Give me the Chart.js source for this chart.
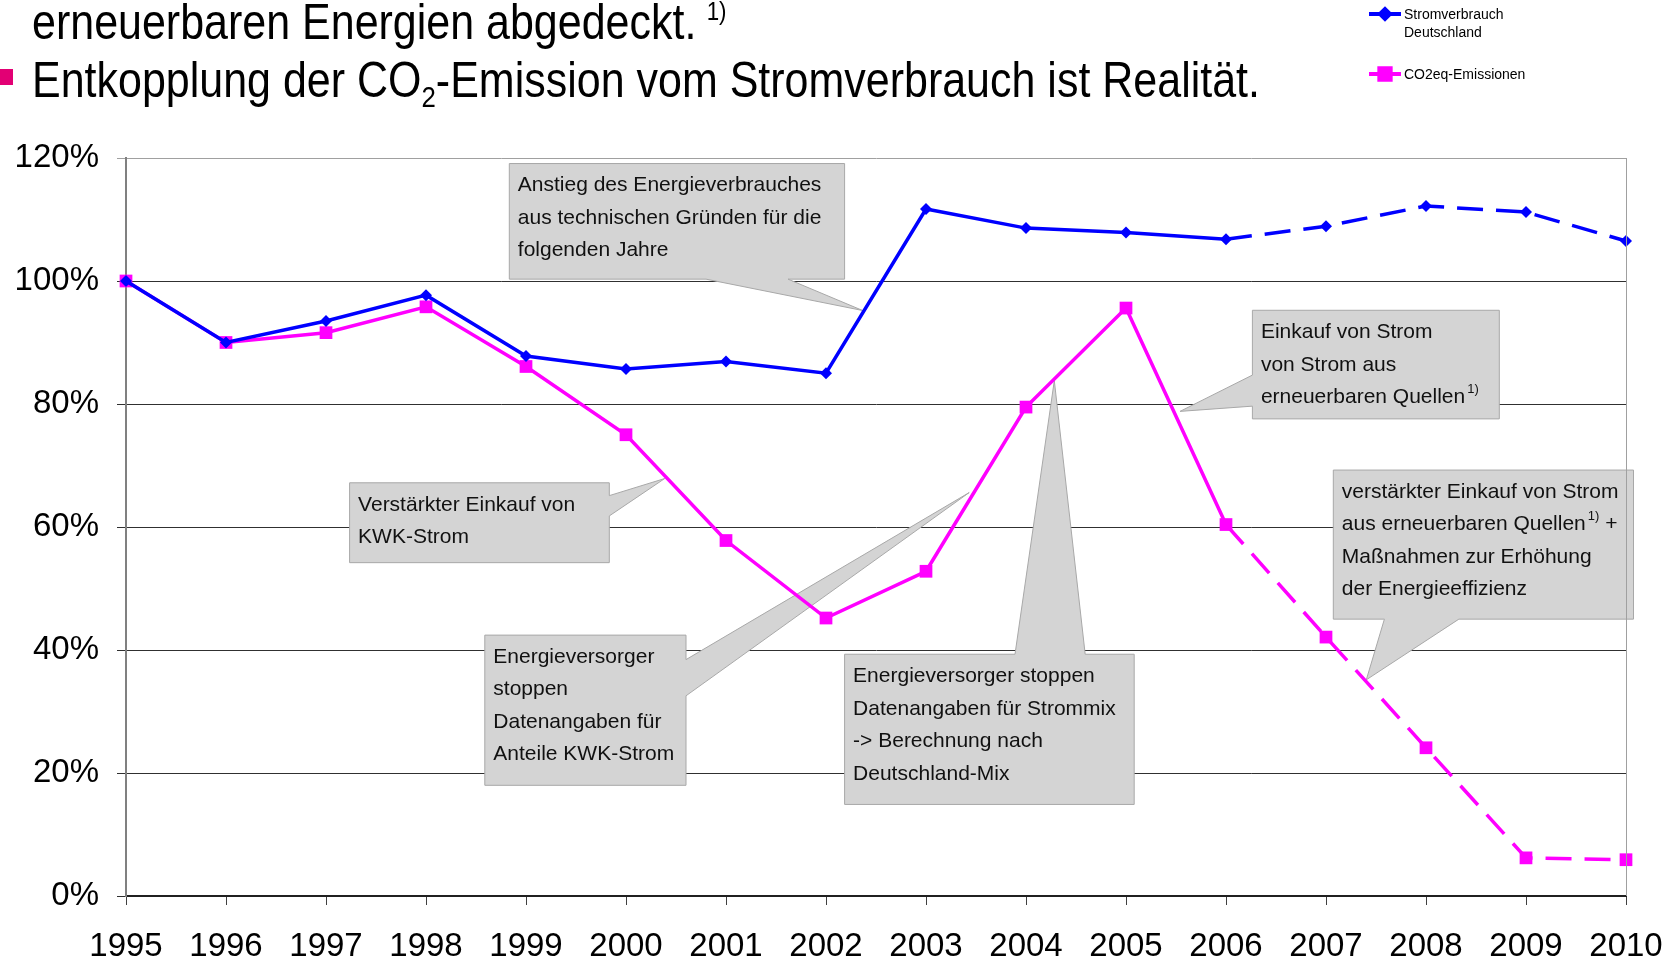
<!DOCTYPE html>
<html>
<head>
<meta charset="utf-8">
<script src="https://cdn.jsdelivr.net/npm/chart.js@4.4.0/dist/chart.umd.min.js"></script>
<style>
  html, body { margin: 0; padding: 0; background: #fff; overflow: hidden; }
  #wrap { position: relative; width: 1670px; height: 962px; }
  #chart { position: absolute; left: 0; top: 0; }
  .head {
    position: absolute; left: 32px; white-space: nowrap; color: #000;
    font-family: "Liberation Sans", Arial, sans-serif;
    font-size: 50px; line-height: 50px; transform-origin: left top;
  }
  .head sup { font-size: 26px; position: relative; margin-left: 12px; vertical-align: baseline; top: -19px; }
  .head sub { font-size: 30px; position: relative; top: 10px; vertical-align: baseline; }
  .bullet { position: absolute; left: 0; top: 69px; width: 13px; height: 16px; background: #e20074; }
</style>
</head>
<body>
<div id="wrap">
  <canvas id="chart" width="1670" height="962"></canvas>
  <div class="head" style="top:-3px">erneuerbaren Energien abgedeckt.<sup>1)</sup></div>
  <div class="bullet"></div>
  <div class="head" style="top:55px">Entkopplung der CO<sub>2</sub>-Emission vom Stromverbrauch ist Realität.</div>
</div>
<script>
// Jahre und Werte (1995 = 100 %)
const years = ['1995', '1996', '1997', '1998', '1999', '2000', '2001', '2002',
               '2003', '2004', '2005', '2006', '2007', '2008', '2009', '2010'];
const stromverbrauch = [100, 90.0, 93.5, 97.7, 87.8, 85.7, 86.9, 85.0,
                        111.7, 108.6, 107.9, 106.8, 108.9, 112.2, 111.2, 106.5];
const co2Emissionen = [100, 90.0, 91.6, 95.8, 86.1, 75.0, 57.8, 45.2,
                       52.8, 79.5, 95.6, 60.4, 42.1, 24.1, 6.2, 5.9];
const yTicks = [0, 20, 40, 60, 80, 100, 120];
const planStart = 11; // ab 2006 gestrichelt

const labelFont = '"Liberation Sans", Arial, sans-serif';

// Überschrift auf die Breite der Vorlage stauchen
const heads = document.querySelectorAll('.head');
const sx = 1228 / heads[1].getBoundingClientRect().width;
heads.forEach(h => { h.style.transform = 'scaleX(' + sx + ')'; });

// Sprechblasen: Kasten [x links, x rechts, y oben, y unten] in Achsenwerten
const callouts = [
  { box: [3.833, 7.186, 119.1, 100.3], side: 'bottom', base: [5.80, 6.62], tip: [7.367, 95.2],
    lines: ['Anstieg des Energieverbrauches', 'aus technischen Gründen für die', 'folgenden Jahre'] },
  { box: [11.264, 13.733, 95.24, 77.58], side: 'left', base: [84.7, 79.65], tip: [10.54, 78.8],
    lines: ['Einkauf von Strom', 'von Strom aus', 'erneuerbaren Quellen^1)'] },
  { box: [12.073, 15.075, 69.26, 45.02], side: 'bottom', base: [12.584, 13.329], tip: [12.403, 35.15],
    lines: ['verstärkter Einkauf von Strom', 'aus erneuerbaren Quellen^1)^ +', 'Maßnahmen zur Erhöhung', 'der Energieeffizienz'] },
  { box: [2.236, 4.833, 67.19, 54.2], side: 'right', base: [65.1, 61.8], tip: [5.387, 67.88],
    lines: ['Verstärkter Einkauf von', 'KWK-Strom'] },
  { box: [3.588, 5.6, 42.42, 18.0], side: 'right', base: [38.44, 32.55], tip: [8.432, 65.6],
    lines: ['Energieversorger', 'stoppen', 'Datenangaben für', 'Anteile KWK-Strom'] },
  { box: [7.186, 10.082, 39.31, 14.89], side: 'top', base: [8.89, 9.592], tip: [9.283, 83.8],
    lines: ['Energieversorger stoppen', 'Datenangaben für Strommix', '-> Berechnung nach', 'Deutschland-Mix'] }
];

const calloutPlugin = {
  id: 'callouts',
  beforeDatasetsDraw(chart) {
    const { ctx, scales: { x, y } } = chart;
    ctx.save();
    callouts.forEach(c => {
      const L = x.getPixelForValue(c.box[0]), R = x.getPixelForValue(c.box[1]);
      const T = y.getPixelForValue(c.box[2]), B = y.getPixelForValue(c.box[3]);
      const tx = x.getPixelForValue(c.tip[0]), ty = y.getPixelForValue(c.tip[1]);
      const horiz = c.side === 'top' || c.side === 'bottom';
      const b = c.base.map(v => horiz ? x.getPixelForValue(v) : y.getPixelForValue(v));
      const lo = Math.min(b[0], b[1]), hi = Math.max(b[0], b[1]);
      ctx.beginPath();
      ctx.moveTo(L, T);
      if (c.side === 'top') { ctx.lineTo(lo, T); ctx.lineTo(tx, ty); ctx.lineTo(hi, T); }
      ctx.lineTo(R, T);
      if (c.side === 'right') { ctx.lineTo(R, lo); ctx.lineTo(tx, ty); ctx.lineTo(R, hi); }
      ctx.lineTo(R, B);
      if (c.side === 'bottom') { ctx.lineTo(hi, B); ctx.lineTo(tx, ty); ctx.lineTo(lo, B); }
      ctx.lineTo(L, B);
      if (c.side === 'left') { ctx.lineTo(L, hi); ctx.lineTo(tx, ty); ctx.lineTo(L, lo); }
      ctx.closePath();
      ctx.fillStyle = '#d4d4d4';
      ctx.fill();
      ctx.strokeStyle = '#a8a8a8';
      ctx.lineWidth = 1;
      ctx.stroke();

      ctx.fillStyle = '#111';
      ctx.textBaseline = 'middle';
      ctx.textAlign = 'left';
      c.lines.forEach((line, i) => {
        let px = L + 8.5;
        const py = T + 22 + i * 32.5;
        line.split('^').forEach((part, k) => {
          if (k % 2 === 1) {
            ctx.font = '13px ' + labelFont;
            ctx.fillText(part, px + 2, py - 8);
            px += ctx.measureText(part).width + 2;
          } else {
            ctx.font = '21px ' + labelFont;
            ctx.fillText(part, px, py);
            px += ctx.measureText(part).width;
          }
        });
      });
    });
    ctx.restore();
  },
  afterDraw(chart) {
    const { ctx, chartArea } = chart;
    ctx.save();
    // rechter Rahmen
    ctx.strokeStyle = '#a0a0a0';
    ctx.lineWidth = 1;
    ctx.beginPath();
    ctx.moveTo(chartArea.right + 0.5, chartArea.top);
    ctx.lineTo(chartArea.right + 0.5, chartArea.bottom);
    ctx.stroke();

    // Legende
    const items = [
      { ds: chart.data.datasets[0], y: 14, text: ['Stromverbrauch', 'Deutschland'] },
      { ds: chart.data.datasets[1], y: 74, text: ['CO2eq-Emissionen'] }
    ];
    items.forEach(it => {
      ctx.strokeStyle = it.ds.borderColor;
      ctx.lineWidth = 4;
      ctx.beginPath();
      ctx.moveTo(1369, it.y);
      ctx.lineTo(1401, it.y);
      ctx.stroke();
      Chart.helpers.drawPoint(ctx, {
        pointStyle: it.ds.pointStyle, radius: it.ds.pointRadius - 1, borderWidth: 1
      }, 1385, it.y);
      ctx.fillStyle = it.ds.borderColor;
      ctx.fill();
      ctx.fillStyle = '#000';
      ctx.font = '14px ' + labelFont;
      ctx.textBaseline = 'middle';
      it.text.forEach((t, i) => ctx.fillText(t, 1404, it.y + 1 + i * 18));
    });
    ctx.restore();
  }
};

const dashAfterPlan = ctx => ctx.p0DataIndex >= planStart ? [26, 13] : undefined;

new Chart(document.getElementById('chart'), {
  type: 'line',
  data: {
    labels: years,
    datasets: [
      {
        label: 'Stromverbrauch Deutschland',
        data: stromverbrauch,
        borderColor: '#0000ff',
        backgroundColor: '#0000ff',
        borderWidth: 3.5,
        pointStyle: 'rectRot',
        pointRadius: 6,
        pointBorderWidth: 0,
        tension: 0,
        segment: { borderDash: dashAfterPlan }
      },
      {
        label: 'CO2eq-Emissionen',
        data: co2Emissionen,
        borderColor: '#ff00ff',
        backgroundColor: '#ff00ff',
        borderWidth: 3.5,
        pointStyle: 'rect',
        pointRadius: 9,
        pointBorderWidth: 0,
        tension: 0,
        segment: { borderDash: dashAfterPlan }
      }
    ]
  },
  options: {
    responsive: false,
    animation: false,
    layout: { padding: { top: 158, right: 44, bottom: 0, left: 0 } },
    plugins: { legend: { display: false }, tooltip: { enabled: false } },
    scales: {
      x: {
        type: 'category',
        offset: false,
        grid: { drawOnChartArea: false, drawTicks: true, tickLength: 9, color: '#404040' },
        border: { color: '#202020', width: 2 },
        ticks: { font: { family: labelFont, size: 33 }, color: '#000', padding: 22, maxRotation: 0, autoSkip: false },
        afterFit: s => { s.height = 66; s.paddingLeft = 0; s.paddingRight = 0; }
      },
      y: {
        min: 0,
        max: 120,
        afterBuildTicks: s => { s.ticks = yTicks.map(v => ({ value: v })); },
        ticks: { font: { family: labelFont, size: 33 }, color: '#000', padding: 18, callback: v => v + '%' },
        grid: {
          color: c => (c.tick && c.tick.value === 120) ? '#a0a0a0' : '#303030',
          lineWidth: 1,
          tickLength: 9
        },
        border: { color: '#808080', width: 2 },
        afterFit: s => { s.width = 126; s.paddingTop = 0; s.paddingBottom = 0; }
      }
    }
  },
  plugins: [calloutPlugin]
});
</script>
</body>
</html>
